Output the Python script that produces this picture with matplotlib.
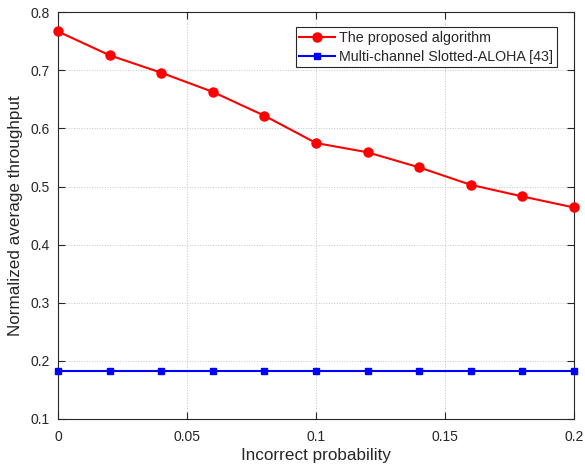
import matplotlib.pyplot as plt

plt.rcParams['font.family'] = ['Liberation Sans', 'DejaVu Sans']

# Incorrect probability on the x axis
prob = [0, 0.02, 0.04, 0.06, 0.08, 0.1, 0.12, 0.14, 0.16, 0.18, 0.2]

# Normalized average throughput for each scheme
proposed = [0.767, 0.726, 0.696, 0.663, 0.622, 0.575, 0.559, 0.533, 0.503, 0.483, 0.464]
aloha = [0.1833] * 11

fig = plt.figure(figsize=(5.85, 4.72), dpi=100)
ax = fig.add_axes([0.0991, 0.1123, 0.8821, 0.8617])

ax.plot(prob, proposed, color='red', marker='o', markersize=6.5, linewidth=1.5,
        label='The proposed algorithm', clip_on=False, zorder=3)
ax.plot(prob, aloha, color='blue', marker='s', markersize=4.5, linewidth=1.5,
        label='Multi-channel Slotted-ALOHA [43]', clip_on=False, zorder=3)

ax.set_xlim(0, 0.2)
ax.set_ylim(0.1, 0.8)
ax.set_xticks([0, 0.05, 0.1, 0.15, 0.2])
ax.set_xticklabels(['0', '0.05', '0.1', '0.15', '0.2'])
ax.set_yticks([0.1, 0.2, 0.3, 0.4, 0.5, 0.6, 0.7, 0.8])

ax.set_xlabel('Incorrect probability', fontsize=12.3, color='#262626', labelpad=3)
ax.set_ylabel('Normalized average throughput', fontsize=12.3, color='#262626', labelpad=5)

ax.grid(True, linestyle=':', color='#c4c4c4', linewidth=0.7)
ax.tick_params(axis='both', direction='in', top=True, right=True, labelsize=10,
               length=5, colors='#262626')
ax.tick_params(axis='x', pad=8)
ax.tick_params(axis='y', pad=6)
for s in ax.spines.values():
    s.set_color('#262626')
    s.set_linewidth(0.8)

leg = ax.legend(loc='upper right', bbox_to_anchor=(0.967, 0.963), fontsize=10.3,
                fancybox=False, edgecolor='#262626', framealpha=1,
                handlelength=2.5, handletextpad=0.3, borderpad=0.25,
                labelspacing=0.35, borderaxespad=0)
leg.get_frame().set_linewidth(0.8)
for t in leg.get_texts():
    t.set_color('#262626')

fig.savefig('out.png', dpi=100)
